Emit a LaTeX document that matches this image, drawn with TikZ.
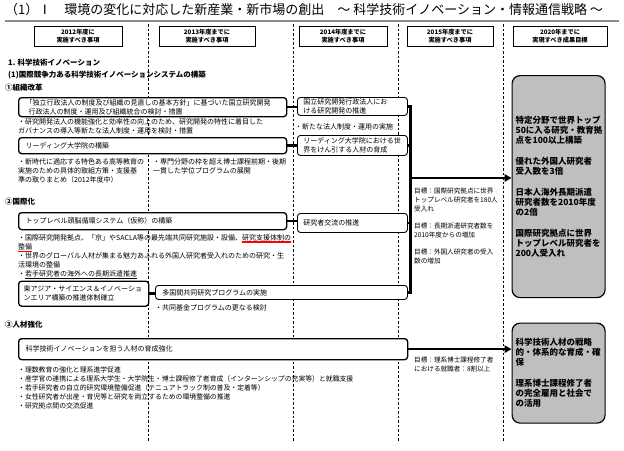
\documentclass[tikz,border=0pt]{standalone}
\usepackage{fontspec}
\setmainfont{Noto Sans CJK JP}
\usetikzlibrary{arrows.meta,shadows}
\newcommand\bodyfs{\fontsize{7}{9}\selectfont}
\newcommand\myredul[1]{\setbox0\hbox{#1}\rlap{\color{red}\rule[-2.4pt]{\wd0}{1.1pt}}\box0}
\newcommand\myblkul[1]{\setbox0\hbox{#1}\rlap{\rule[-2pt]{\wd0}{0.6pt}}\box0}
\begin{document}
\begin{tikzpicture}[x=1pt,y=-1pt,
  txt/.style={anchor=north west, inner sep=0pt, align=left, font=\bodyfs},
  goal/.style={txt, font=\fontsize{6.6}{9}\selectfont},
  sec/.style={anchor=west, inner sep=0pt, font=\fontsize{7.5}{9}\selectfont\bfseries},
  hdr/.style={draw, line width=0.8pt, fill=white, align=center, minimum height=20pt, inner sep=1pt,
    font=\fontsize{6.2}{8}\selectfont\bfseries,
    drop shadow={shadow xshift=1.2pt, shadow yshift=-1.2pt, fill=black, opacity=1}},
  bigbox/.style={anchor=north west, draw, line width=1.3pt, rounded corners=3pt, fill=white,
    inner xsep=7pt, inner ysep=0pt, align=left, font=\bodyfs},
  smallbox/.style={bigbox, line width=0.9pt, inner xsep=6pt},
  gbox/.style={anchor=north west, draw, line width=1.2pt, rounded corners=8pt, fill=black!25,
    inner xsep=3.5pt, inner ysep=0pt, align=left, text width=86pt,
    font=\fontsize{8.5}{10}\selectfont\bfseries},
  div/.style={dash pattern=on 2.5pt off 2pt, line width=0.6pt},
  link/.style={line width=2.6pt, line join=miter},
  arr/.style={line width=2.4pt, -{Triangle[length=7pt,width=7.5pt]}}
]
\useasboundingbox (0,0) rectangle (624,450);

% title
\node[anchor=west, inner sep=0pt, font=\fontsize{13}{15}\selectfont] (title) at (5,10)
  {（1）Ⅰ　環境の変化に対応した新産業・新市場の創出　～ 科学技術イノベーション・情報通信戦略 ～};
\draw[line width=2.5pt, black!45] (5,21) -- (619,21);

% column dividers
\draw[div] (148,24) -- (148,442);
\draw[div] (293,24) -- (293,442);
\draw[div] (398,24) -- (398,442);
\draw[div] (503,24) -- (503,442);

% headers
\node[hdr, minimum width=88pt] (h1) at (78,36) {2012年度に\\実施すべき事項};
\node[hdr, minimum width=96pt] (h2) at (207,36) {2013年度までに\\実施すべき事項};
\node[hdr, minimum width=88pt] (h3) at (343,36) {2014年度までに\\実施すべき事項};
\node[hdr, minimum width=86pt] (h4) at (450,36) {2015年度までに\\実施すべき事項};
\node[hdr, minimum width=94pt] (h5) at (560,36) {2020年までに\\実現すべき成果目標};

% section 1
\node[sec] (s1) at (8,63) {1. 科学技術イノベーション};
\node[sec] (s2) at (8,75) {(1)国際競争力ある科学技術イノベーションシステムの構築};
\node[sec] (s3) at (5,88) {①組織改革};

\node[bigbox, text width=254pt, minimum height=19pt] (A) at (18,97)
  {「独立行政法人の制度及び組織の見直しの基本方針」に基づいた国立研究開発\\\hspace{3pt}行政法人の制度・運用及び組織統合の検討・措置};
\node[txt] (P1) at (18,118)
  {・研究開発法人の機能強化と効率性の向上のため、研究開発の特性に着目した\\ガバナンスの導入等新たな法人制度・運用を検討・措置};
\node[bigbox, text width=254pt, minimum height=16pt] (B) at (18,137) {リーディング大学院の構築};
\node[txt] (P2) at (18,158)
  {・新時代に適応する特色ある高等教育の\\実施のための具体的取組方策・支援基\\準の取りまとめ（2012年度中）};
\node[txt] (P3) at (153,158)
  {・専門分野の枠を超え博士課程前期・後期\\一貫した学位プログラムの展開};

\node[smallbox, text width=98pt, minimum height=18pt] (G) at (297,97)
  {国立研究開発行政法人にお\\ける研究開発の推進};
\node[txt, anchor=west] (P7) at (295,127) {・新たな法人制度・運用の実施};
\node[smallbox, text width=98pt, minimum height=20pt] (H) at (297,135)
  {リーディング大学院における世\\界をけん引する人材の育成};

% section 2
\node[sec] (s4) at (5,202) {②国際化};
\node[bigbox, text width=254pt, minimum height=17pt] (C) at (18,212)
  {トップレベル頭脳循環システム（仮称）の構築};
\node[txt, font=\fontsize{7}{9.2}\selectfont] (P4) at (18,234)
  {・国際研究開発拠点、「京」やSACLA等の最先端共同研究施設・設備、\myredul{研究支援体制の}\\\myredul{整備}\\・世界のグローバル人材が集まる魅力あふれる外国人研究者受入れのための研究・生\\活環境の整備\\・\myblkul{若手研究者の海外への長期派遣推進}};
\node[smallbox, text width=98pt, minimum height=19pt] (I) at (297,213) {研究者交流の推進};
\node[bigbox, text width=120pt, inner xsep=5pt, minimum height=25pt] (D) at (18,280.5)
  {東アジア・サイエンス＆イノベーショ\\ンエリア構築の推進体制確立};
\node[smallbox, text width=238pt, inner xsep=7pt, minimum height=14pt] (E) at (155,285)
  {多国間共同研究プログラムの実施};
\node[txt] (P5) at (155,304.5) {・共同基金プログラムの更なる検討};

% section 3
\node[sec] (s5) at (5,325) {③人材強化};
\node[bigbox, text width=375pt, minimum height=21pt] (F) at (18,338)
  {科学技術イノベーションを担う人材の育成強化};
\node[txt, font=\fontsize{6.85}{8.8}\selectfont] (P6) at (18,367)
  {・理数教育の強化と理系進学促進\\・産学官の連携による理系大学生・大学院生・博士課程修了者育成（インターンシップの充実等）と就職支援\\・若手研究者の自立的研究環境整備促進（テニュアトラック制の普及・定着等）\\・女性研究者が出産・育児等と研究を両立するための環境整備の推進\\・研究拠点間の交流促進};

% goals column
\node[goal] (T1) at (414,188) {目標：国際研究拠点に世界\\トップレベル研究者を180人\\受入れ};
\node[goal] (T2) at (414,223) {目標：長期派遣研究者数を\\2010年度からの増加};
\node[goal] (T3) at (414,249) {目標：外国人研究者の受入\\数の増加};
\node[goal] (T4) at (414,357) {目標：理系博士課程修了者\\における就職者：8割以上};

% outcome boxes
\node[gbox, minimum height=222pt] (J) at (511.5,75)
  {特定分野で世界トップ\\50に入る研究・教育拠\\点を100以上構築\\[11pt]優れた外国人研究者\\受入数を3倍\\[11pt]日本人海外長期派遣\\研究者数を2010年度\\の2倍\\[11pt]国際研究拠点に世界\\トップレベル研究者を\\200人受入れ};
\node[gbox, minimum height=100pt] (K) at (511.5,322.5)
  {科学技術人材の戦略\\的・体系的な育成・確\\保\\[11pt]理系博士課程修了者\\の完全雇用と社会で\\の活用};

% connectors
\coordinate (bx) at (410.5,178);
\draw[link] (A.east) -- (A.east -| G.west);
\draw[link] (B.east) -- (B.east -| H.west);
\draw[link] (C.east) -- (C.east -| I.west);
\draw[link] (D.east) -- (D.east -| E.west);
\draw[link] (G.east) -- (G.east -| bx) -- (E.east -| bx) -- (E.east);
\draw[link] (H.east) -- (H.east -| bx);
\draw[link] (I.east) -- (I.east -| bx);
\draw[arr] (bx) -- (bx -| J.west);
\draw[arr] (F.east) -- (F.east -| K.west);
\end{tikzpicture}
\end{document}
